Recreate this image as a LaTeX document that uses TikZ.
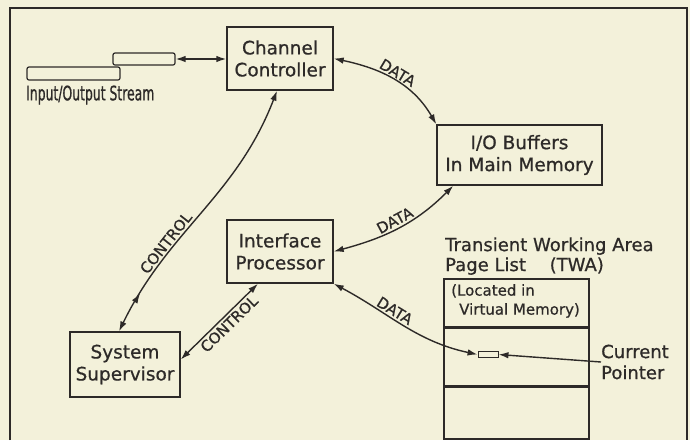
\documentclass[tikz,border=0pt]{standalone}
\usepackage{fontspec}
\setmainfont{DejaVu Sans}[FakeBold=0.7]
\newfontfamily\narrowfont{DejaVu Sans}[FakeStretch=0.62, FakeBold=0.8]
\usetikzlibrary{arrows.meta, decorations.markings}
\definecolor{ink}{RGB}{45,42,40}
\definecolor{paper}{RGB}{243,241,218}
\tikzset{
  box/.style={draw=ink, line width=1.4pt, align=center, inner sep=0pt, text=ink, font=\fontsize{18.5}{22}\selectfont},
  tape/.style={draw=ink, line width=1.2pt, rounded corners=2pt, inner sep=0pt},
  txt/.style={text=ink, inner sep=0pt, align=left, font=\fontsize{18}{21}\selectfont},
  lbl/.style={text=ink, inner sep=2pt, font=\fontsize{15}{15}\selectfont},
  link/.style={{Latex[length=10pt,width=6.5pt]}-{Latex[length=10pt,width=6.5pt]}, line width=1.4pt, draw=ink},
  onearrow/.style={-{Latex[length=10pt,width=6.5pt]}, line width=1.4pt, draw=ink},
  midtip/.style={postaction={decorate}, decoration={markings, mark=at position #1 with {\arrow{Latex[length=10pt,width=6.5pt]}}}},
}

\begin{document}
\begin{tikzpicture}[x=1pt,y=1pt]
    \useasboundingbox[fill=paper] (0,0) rectangle (690,-440);
    \draw[ink, line width=1.4pt] (10,-440) -- (10,-8) -- (687,-8) -- (687,-440);
    % main boxes
    \node[box, minimum width=106pt, minimum height=63pt] (chan) at (280,-58.5) {Channel\\Controller};
    \node[box, minimum width=165pt, minimum height=60pt] (buf) at (519.5,-155) {I/O Buffers\\In Main Memory};
    \node[box, minimum width=106pt, minimum height=63pt] (intf) at (280,-251.5) {Interface\\Processor};
    \node[box, minimum width=110pt, minimum height=65pt] (sup) at (125,-364.5) {System\\Supervisor};
    % stream tape
    \node[tape, minimum width=93pt, minimum height=13pt] (tapelow) at (73.5,-73.5) {};
    \node[tape, minimum width=62pt, minimum height=12pt] (tapeup) at (144,-59) {};
    \node[text=ink, inner sep=0pt, anchor=west, font=\narrowfont\fontsize{20}{20}\selectfont] (streamlbl) at (26,-95) {Input/Output Stream};
    % page list
    \node[box, minimum width=145pt, minimum height=48pt] (twatop) at (516.5,-303) {};
    \node[box, minimum width=145pt, minimum height=57pt, anchor=north] (twamid) at (twatop.south) {};
    \node[box, minimum width=145pt, minimum height=52pt, anchor=north] (twabot) at (twamid.south) {};
    \node[txt, anchor=south west, font=\fontsize{18}{20}\selectfont] (twatitle) at (445,-275) {Transient Working Area\\Page List\quad\ (TWA)};
    \node[txt, anchor=north west, font=\fontsize{15}{19}\selectfont] (twanote) at (451,-284) {(Located in\\\hspace{8pt}Virtual Memory)};
    \node[draw=ink, line width=0.9pt, minimum width=20pt, minimum height=6pt, inner sep=0pt] (ptr) at (488,-354.5) {};
    \node[txt, anchor=west] (cur) at (601,-362) {Current\\Pointer};
    % connectors
    \draw[link] (tapeup.east) -- (tapeup.east -| chan.west);
    \draw[link] (chan.east) to[out=-12, in=120] node[lbl, pos=0.5, sloped, above] {DATA} (buf.north west);
    \draw[link] (intf.east) to[out=15, in=225] node[lbl, pos=0.5, sloped, above] {DATA} ([xshift=17pt]buf.south west);
    \draw[link] (intf.south east) to[out=-28, in=168] node[lbl, pos=0.4, sloped, above] {DATA} (ptr.west);
    \draw[onearrow] (cur.west) -- (ptr.east);
    \draw[link, midtip=0.15] ([xshift=-6pt]sup.north) to[out=64, in=-111] node[lbl, pos=0.33, sloped, above] {CONTROL} ([xshift=-3pt]chan.south);
    \draw[link] ([yshift=5pt]sup.east) -- node[lbl, pos=0.55, sloped, below] {CONTROL} ([xshift=-22pt]intf.south);
\end{tikzpicture}
\end{document}
